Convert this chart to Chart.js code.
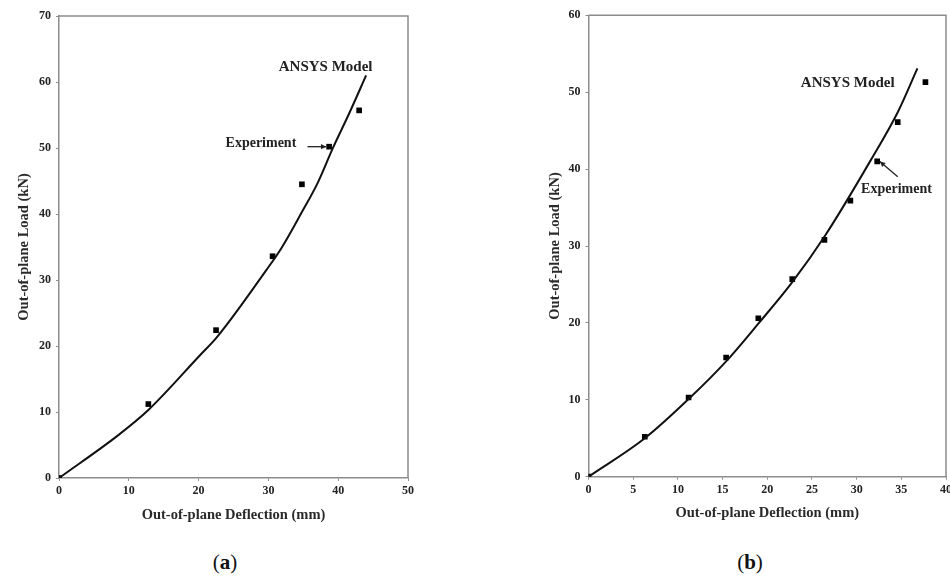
<!DOCTYPE html>
<html>
<head>
<meta charset="utf-8">
<script src="https://cdn.jsdelivr.net/npm/chart.js@4.4.0/dist/chart.umd.min.js"></script>
<style>
  html, body { margin: 0; padding: 0; background: #fff; }
  body { width: 950px; height: 579px; position: relative; overflow: hidden; font-family: "Liberation Serif", "Times New Roman", serif; }
  .panel { position: absolute; top: 0; height: 530px; }
  #panelA { left: 0; width: 420px; }
  #panelB { left: 480px; width: 470px; }
  .cap { position: absolute; top: 549px; font-size: 21px; line-height: 26px; color: #111; transform: translateX(-50%); }
</style>
</head>
<body>
<div class="panel" id="panelA"><canvas id="chartA"></canvas></div>
<div class="panel" id="panelB"><canvas id="chartB"></canvas></div>
<div class="cap" style="left:225px">(<b>a</b>)</div>
<div class="cap" style="left:750px">(<b>b</b>)</div>
<script>
// ---- panel (a) ----
const expDeflA = [0, 12.8, 22.5, 30.6, 34.8, 38.7, 43.0];
const expLoadA = [0, 11.2, 22.4, 33.6, 44.5, 50.2, 55.7];
const modelDeflA = [0, 8.5, 12.8, 20.2, 22.6, 29.7, 31.9, 34.7, 37.1, 39.2, 41.6, 44.0];
const modelLoadA = [0, 6.5, 10.3, 18.6, 21.3, 31.5, 34.9, 40.1, 44.8, 49.9, 55.3, 61.0];

// ---- panel (b) ----
const expDeflB = [0, 6.3, 11.2, 15.4, 19.0, 22.8, 26.4, 29.3, 32.3, 34.6, 37.7];
const expLoadB = [0, 5.2, 10.3, 15.5, 20.6, 25.7, 30.8, 35.9, 41.0, 46.1, 51.3];
const modelDeflB = [0, 6.3, 11.2, 15.4, 19.0, 22.8, 26.5, 31.6, 34.6, 36.8];
const modelLoadB = [0, 5.0, 10.1, 15.0, 19.9, 25.3, 31.4, 41.2, 47.4, 53.1];

const xTitle = 'Out-of-plane Deflection (mm)';
const yTitle = 'Out-of-plane Load (kN)';

// text labels and arrows (data coordinates)
const notesA = [
  { text: 'ANSYS Model', x: 38.2, y: 62.2, align: 'center' },
  { text: 'Experiment', x: 34.0, y: 50.7, align: 'right' }
];
const arrowsA = [{ from: [35.6, 50.2], to: [38.3, 50.2] }];
const notesB = [
  { text: 'ANSYS Model', x: 29.0, y: 51.2, align: 'center' },
  { text: 'Experiment', x: 30.5, y: 37.4, align: 'left' }
];
const arrowsB = [{ from: [34.6, 39.0], to: [32.6, 41.0] }];

const toPts = (xs, ys) => xs.map((v, i) => ({ x: v, y: ys[i] }));

const serif = '"Liberation Serif", "Times New Roman", serif';

const notesPlugin = {
  id: 'notes',
  afterDatasetsDraw(chart, args, opts) {
    const { ctx, chartArea: a, scales } = chart;
    const sx = scales.x, sy = scales.y;
    ctx.save();
    // frame top/right
    ctx.strokeStyle = '#8c8c8c';
    ctx.lineWidth = 1.5;
    ctx.beginPath();
    ctx.moveTo(a.left, a.top);
    ctx.lineTo(a.right, a.top);
    ctx.lineTo(a.right, a.bottom);
    ctx.stroke();

    ctx.fillStyle = '#222';
    ctx.textBaseline = 'middle';
    (opts.notes || []).forEach(n => {
      ctx.font = (n.text === 'Experiment' ? 'bold 14px ' : 'bold 15px ') + serif;
      ctx.textAlign = n.align;
      ctx.fillText(n.text, sx.getPixelForValue(n.x), sy.getPixelForValue(n.y));
    });

    ctx.strokeStyle = '#222';
    ctx.lineWidth = 1.3;
    (opts.arrows || []).forEach(ar => {
      const x1 = sx.getPixelForValue(ar.from[0]), y1 = sy.getPixelForValue(ar.from[1]);
      const x2 = sx.getPixelForValue(ar.to[0]), y2 = sy.getPixelForValue(ar.to[1]);
      const ang = Math.atan2(y2 - y1, x2 - x1);
      ctx.beginPath();
      ctx.moveTo(x1, y1);
      ctx.lineTo(x2, y2);
      ctx.stroke();
      ctx.beginPath();
      ctx.moveTo(x2, y2);
      ctx.lineTo(x2 - 6 * Math.cos(ang - 0.45), y2 - 6 * Math.sin(ang - 0.45));
      ctx.lineTo(x2 - 6 * Math.cos(ang + 0.45), y2 - 6 * Math.sin(ang + 0.45));
      ctx.closePath();
      ctx.fill();
    });
    ctx.restore();
  }
};

function makeChart(id, cfg) {
  const tickFont = { family: serif, size: 12, weight: 'bold' };
  const titleFont = { family: serif, size: 14.5, weight: 'bold' };
  return new Chart(document.getElementById(id), {
    type: 'scatter',
    data: {
      datasets: [{
        label: 'ANSYS Model',
        data: toPts(cfg.modelX, cfg.modelY),
        showLine: true,
        borderColor: '#111',
        borderWidth: 2,
        pointRadius: 0,
        cubicInterpolationMode: 'monotone'
      }, {
        label: 'Experiment',
        data: toPts(cfg.expX, cfg.expY),
        pointStyle: 'rect',
        pointRadius: 4,
        backgroundColor: '#000',
        borderColor: '#000',
        borderWidth: 0
      }]
    },
    options: {
      responsive: true,
      maintainAspectRatio: false,
      animation: false,
      layout: { padding: { top: cfg.padTop, right: cfg.padRight, left: 0, bottom: 0 } },
      plugins: {
        legend: { display: false },
        tooltip: { enabled: false },
        notes: { notes: cfg.notes, arrows: cfg.arrows }
      },
      scales: {
        x: {
          type: 'linear',
          min: 0, max: cfg.xMax,
          ticks: { stepSize: cfg.xStep, font: tickFont, color: '#222', padding: 3 },
          grid: { drawOnChartArea: false, drawTicks: true, tickLength: 3, color: '#8c8c8c' },
          border: { color: '#8c8c8c', width: 1.5 },
          title: { display: true, text: xTitle, font: titleFont, color: '#2a2a2a', padding: { top: 0, bottom: cfg.xTitlePad } },
          afterFit: s => { s.height = cfg.xHeight; s.paddingLeft = 0; s.paddingRight = 0; }
        },
        y: {
          type: 'linear',
          min: 0, max: cfg.yMax,
          ticks: { stepSize: 10, font: tickFont, color: '#222', padding: 5 },
          grid: { drawOnChartArea: false, drawTicks: true, tickLength: 3, color: '#8c8c8c' },
          border: { color: '#8c8c8c', width: 1.5 },
          title: { display: true, text: yTitle, font: titleFont, color: '#2a2a2a', padding: { top: cfg.yTitlePad, bottom: 0 } },
          afterFit: s => { s.width = cfg.yWidth; s.paddingTop = 0; s.paddingBottom = 0; }
        }
      }
    },
    plugins: [notesPlugin]
  });
}

makeChart('chartA', {
  modelX: modelDeflA, modelY: modelLoadA, expX: expDeflA, expY: expLoadA,
  notes: notesA, arrows: arrowsA,
  xMax: 50, xStep: 10, yMax: 70,
  padTop: 16, padRight: 12, yWidth: 59, xHeight: 52,
  xTitlePad: 6.3, yTitlePad: 15.3
});

makeChart('chartB', {
  modelX: modelDeflB, modelY: modelLoadB, expX: expDeflB, expY: expLoadB,
  notes: notesB, arrows: arrowsB,
  xMax: 40, xStep: 5, yMax: 60,
  padTop: 15.3, padRight: 3.5, yWidth: 108.5, xHeight: 53.3,
  xTitlePad: 8.3, yTitlePad: 66.3
});
</script>
</body>
</html>
